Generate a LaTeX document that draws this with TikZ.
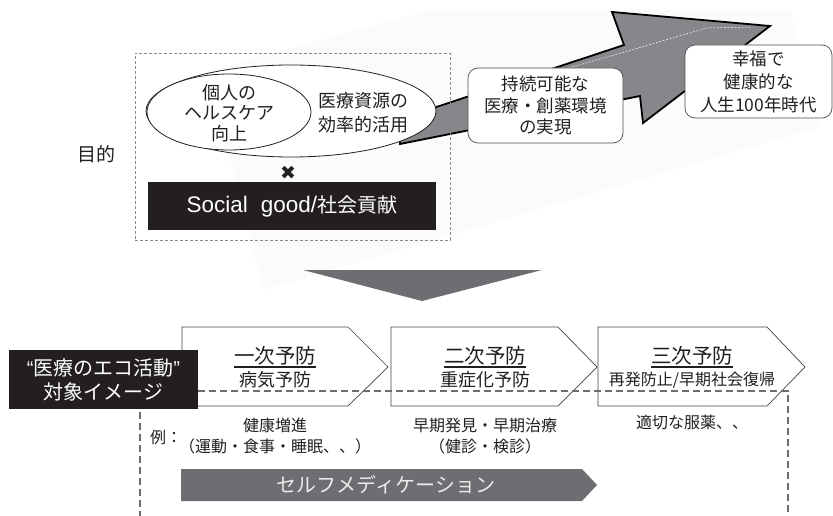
\documentclass[tikz,border=0pt]{standalone}
\usepackage{fontspec}
\setmainfont{Noto Sans CJK JP}
\newfontfamily\lat{Liberation Sans}
\newfontfamily\sym{DejaVu Sans}
\usetikzlibrary{shapes.geometric}
\definecolor{txt}{HTML}{231F20}
\definecolor{arrowgray}{HTML}{86878A}
\definecolor{darkgray2}{HTML}{6D6E71}
\definecolor{bgfaint}{HTML}{FBFBFB}
\definecolor{dashgray}{HTML}{8A8A8A}
\begin{document}
\begin{tikzpicture}[x=1pt,y=-1pt,
  txtstyle/.style={text=txt,inner sep=0pt,align=center},
  goalbox/.style={draw=txt!80,line width=0.7pt,fill=white,rounded corners=10pt,inner sep=0pt,align=center,text=txt},
  stagebox/.style={draw=txt!85,line width=0.7pt,fill=white},
  blackbox/.style={fill=txt,text=white,inner sep=0pt,align=center},
  dline/.style={draw=darkgray2,line width=2pt,dash pattern=on 7pt off 4pt},
  f16/.style={font=\fontsize{16}{21}\selectfont},
]
\useasboundingbox (0,0) rectangle (833,516);
% faint background band
\fill[bgfaint] (208,71) -- (430,10) -- (790,10) -- (820,127) -- (263,290) -- cycle;
% big rising arrow
\filldraw[fill=arrowgray,draw=black,line width=1.8pt,line join=miter]
  (400,144) -- (640,96) -- (643,123) -- (770,26) -- (612,12) -- (624,45) -- (400,119) -- cycle;
\draw[white,line width=0.5pt,dash pattern=on 2pt off 1.5pt] (555,72) -- (707,28) -- (752,27);
% purpose dashed box
\node[draw=dashgray,line width=0.8pt,dash pattern=on 3pt off 2pt,minimum width=315pt,minimum height=187pt,inner sep=0pt] (purpose) at (292.5,146.5) {};
\node[txtstyle,font=\fontsize{19}{22}\selectfont] (mokuteki) at (96,154) {目的};
% ellipses
\node[ellipse,draw=txt,line width=0.8pt,fill=white,minimum width=290pt,minimum height=92pt,inner sep=0pt] (bigell) at (291,111) {};
\node[ellipse,draw=txt,line width=0.8pt,fill=white,minimum width=164pt,minimum height=76pt,inner sep=0pt] (smallell) at (229,112) {};
\node[txtstyle,font=\fontsize{18}{20.5}\selectfont] (indiv) at (229,113) {個人の\\ヘルスケア\\向上};
\node[txtstyle,font=\fontsize{18}{24}\selectfont] (resource) at (363,113) {医療資源の\\効率的活用};
\node[txtstyle,font=\sym\fontsize{19}{19}\selectfont] (times) at (288,173) {✖};
\node[blackbox,minimum width=288pt,minimum height=48pt] (social) at (292,206) {{\lat\fontsize{22.5}{22.5}\selectfont Social\hspace{13pt}good/}{\fontsize{20}{20}\selectfont 社会貢献}};
% goal boxes
\node[goalbox,minimum width=155pt,minimum height=75pt,font=\fontsize{17.5}{21.5}\selectfont] (goal1) at (545.5,105.5) {持続可能な\\医療・創薬環境\\の実現};
\node[goalbox,minimum width=147pt,minimum height=73pt,font=\fontsize{17.5}{23}\selectfont] (goal2) at (758.5,81.5) {幸福で\\健康的な\\人生100年時代};
% down chevron
\fill[darkgray2] (303,270) -- (542,270) -- (422,301) -- cycle;
% stage pentagons
\draw[stagebox] (182,327) -- (348,327) -- (388,367) -- (348,406) -- (182,406) -- cycle;
\draw[stagebox] (391,327) -- (558,327) -- (597,367) -- (558,406) -- (391,406) -- cycle;
\draw[stagebox] (598,327) -- (767,327) -- (805,367) -- (767,406) -- (598,406) -- cycle;
% stage titles
\node[txtstyle,anchor=base,font=\fontsize{20.5}{20.5}\selectfont] (s1) at (275,363) {一次予防};
\node[txtstyle,anchor=base,font=\fontsize{20.5}{20.5}\selectfont] (s2) at (485,363) {二次予防};
\node[txtstyle,anchor=base,font=\fontsize{20.5}{20.5}\selectfont] (s3) at (692,363) {三次予防};
\foreach \n in {s1,s2,s3}
  \draw[txt,line width=1.3pt] ([yshift=-4pt]\n.base west) -- ([yshift=-4pt]\n.base east);
\node[txtstyle,anchor=base,font=\fontsize{18}{18}\selectfont] (d1) at (275,386) {病気予防};
\node[txtstyle,anchor=base,font=\fontsize{18}{18}\selectfont] (d2) at (485,386) {重症化予防};
\node[txtstyle,anchor=base,font=\fontsize{16}{16}\selectfont] (d3) at (692,385) {再発防止/早期社会復帰};
% dashed target lines
\coordinate (dashR) at (788,391);
\node[blackbox,minimum width=189pt,minimum height=59pt,font=\fontsize{20}{24}\selectfont] (eco) at (103.5,379.5) {{\lat “}医療のエコ活動{\lat ”}\\対象イメージ};
\draw[dline] (eco.east |- dashR) -- (dashR) -- (788,516);
\coordinate (dashL) at (140,412);
\draw[dline] (dashL) -- (140,516);
% examples
\node[txtstyle,anchor=base,font=\fontsize{16}{16}\selectfont] (rei) at (166,443) {例：};
\node[txtstyle,f16] (e1) at (275,436) {健康増進\\（運動・食事・睡眠、、）};
\node[txtstyle,f16] (e2) at (485,436) {早期発見・早期治療\\（健診・検診）};
\node[txtstyle,anchor=base,font=\fontsize{16}{16}\selectfont] (e3) at (692,428) {適切な服薬、、};
% self-medication bar
\fill[darkgray2] (181,469) -- (582,469) -- (597,485) -- (582,501) -- (181,501) -- cycle;
\node[inner sep=0pt,text=white!92!black,font=\fontsize{20}{20}\selectfont] (selfmed) at (386,485) {セルフメディケーション};
\end{tikzpicture}
\end{document}
